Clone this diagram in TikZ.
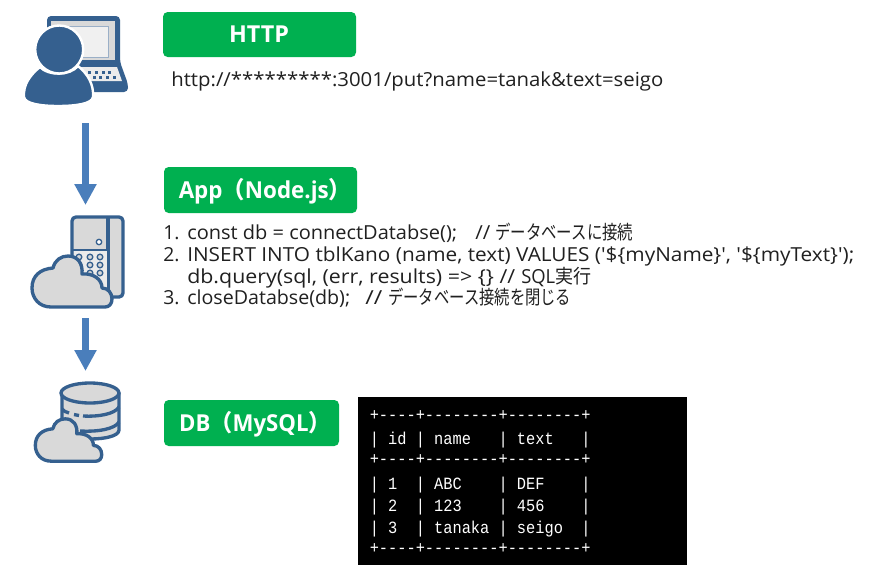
\documentclass[tikz,border=0pt]{standalone}
\usepackage{fontspec}
\usepackage{graphicx}
\usetikzlibrary{arrows.meta}
\setmainfont{Open Sans}
\setmonofont{Liberation Mono}
\newfontfamily\codef{Open Sans}
\newfontfamily\jpf{Noto Sans CJK JP}
\newfontfamily\jpb{Noto Sans CJK JP Bold}
\newcommand{\jp}[1]{{\jpf #1}}
\newcommand{\fitw}[2]{\resizebox{#1\dimexpr 0.75pt\relax}{\height}{#2}}
\newcommand{\gap}[1]{\kern #1\dimexpr 0.75pt\relax}
\definecolor{grn}{HTML}{00B050}
\definecolor{navy}{HTML}{35608F}
\definecolor{arrowb}{HTML}{4A7EBB}
\definecolor{fillg}{HTML}{D9D9D9}
\definecolor{txt}{HTML}{202020}
\tikzset{
 x=0.75pt,y=-0.75pt,
 badge/.style={fill=grn,rounded corners=3.5pt,draw=none,inner sep=0pt},
 badgetext/.style={text=white,font=\bfseries\fontsize{17.5}{20}\selectfont,inner sep=0pt},
 codeline/.style={anchor=base west,inner sep=0pt,text=txt,font=\codef\fontsize{14.5}{16}\selectfont},
 termline/.style={anchor=base west,inner sep=0pt,text=white,font=\ttfamily\fontsize{11.5}{13}\selectfont},
 flow/.style={draw=arrowb,line width=5.25pt,-{Triangle[length=15.75pt,width=15.75pt]}},
 iconline/.style={draw=navy,line width=2.5pt,line join=round},
}
\newcommand{\tall}[1]{\scalebox{1}[1.12]{#1}}
\newcommand{\cloudshape}{(20,52) .. controls (8,52) and (1,43) .. (1,33) .. controls (1,21) and (9,14) .. (22,13) .. controls (24,5) and (30,1) .. (37,1) .. controls (47,1) and (52,9) .. (51,19) .. controls (62,18) and (71,24) .. (71,33) .. controls (77,33) and (81,38) .. (81,44) .. controls (81,49) and (78,52) .. (74,52) -- cycle}
\begin{document}
\begin{tikzpicture}
\useasboundingbox (0,0) rectangle (892,579);
\fill[white] (0,0) rectangle (892,579);
% user + laptop icon
\fill[navy,rounded corners=3pt] (47,16) -- (120,16) -- (120,62) -- (128,84) -- (128,92) -- (60,92) -- (47,70) -- cycle;
\fill[fillg] (51,21) rectangle (115,60);
\fill[white!94!black,draw=navy!50!white,line width=0.5pt] (60,26) rectangle (108,57);
\fill[white!92!black] (80,67) -- (117,67) -- (122,81) -- (80,81) -- cycle;
\foreach \kx in {88,95,102,108}{\fill[navy] (\kx,70.5) rectangle +(3.2,3.2);}
\foreach \kx in {93,99,106,113}{\fill[navy] (\kx,76) rectangle +(3.2,3.2);}
\fill[navy,draw=white,line width=1.8pt] (40,67) .. controls (30,75) and (23,85) .. (24,97) .. controls (25,104) and (42,106) .. (58,106) .. controls (75,106) and (92,104) .. (93,97) .. controls (94,85) and (88,74) .. (78,66) .. controls (70,76) and (48,76) .. (40,67) -- cycle;
\fill[navy,draw=white,line width=1.8pt] (59.2,49.5) circle (24);
% server + cloud icon
\draw[iconline,fill=fillg,rounded corners=3pt] (72,217) rectangle (123,297);
\draw[iconline] (108,217) -- (108,297);
\draw[iconline,line width=1.6pt] (72,250) -- (108,250);
\fill[white!92!black] (73.5,251) rectangle (106.5,295);
\draw[navy,line width=1pt,fill=white] (99,242) circle (2.7);
\foreach \dx in {79,90,100}{\foreach \dy in {257,265,273}{\draw[navy,line width=1pt,fill=fillg] (\dx,\dy) circle (2.8);}}
\begin{scope}[shift={(31,255)}]
\draw[iconline,fill=fillg] \cloudshape;
\end{scope}
% db + cloud icon
\draw[iconline,fill=fillg] (62,393) -- (62,430) .. controls (62,436) and (75,439) .. (90,439) .. controls (105,439) and (119,436) .. (119,430) -- (119,393) -- cycle;
\draw[iconline,fill=fillg] (90,393) ellipse (29 and 10);
\draw[iconline] (62,409) .. controls (63,411) and (66,412) .. (69,413);
\draw[iconline] (74,414.5) -- (79,415.5);
\draw[iconline] (83,416) .. controls (98,417) and (115,414) .. (119,407);
\draw[iconline] (80,431) .. controls (98,432) and (115,429) .. (119,422);
\begin{scope}[shift={(34.5,418)},scale=0.83]
\draw[iconline,fill=fillg] \cloudshape;
\end{scope}
% flow arrows
\coordinate (ua) at (85.5,123);
\coordinate (sa) at (85.5,205);
\coordinate (sb) at (85.5,318);
\coordinate (db) at (85.5,371);
\draw[flow] (ua) -- (sa);
\draw[flow] (sb) -- (db);
% badges
\path[badge] (163,12) rectangle (356,57);
\node[badgetext] (lblhttp) at (259,34) {HTTP};
\path[badge] (164,167) rectangle (357,213);
\node[badgetext] (lblapp) at (265,191) {\scalebox{0.96}[1]{App\jp{\jpb （}Node.js\jp{\jpb ）}}};
\path[badge] (164,400) rectangle (339,446);
\node[badgetext] (lbldb) at (255,424) {\scalebox{0.95}[1]{DB\jp{\jpb （}MySQL\jp{\jpb ）}}};
% url
\node[codeline] (url) at (171,86) {\fitw{492}{http://*********:3001/put?name=tanak\&text=seigo}};
% code
\node[codeline] (n1) at (163,239) {1.};
\node[codeline] (c1) at (187,239) {\fitw{270}{const db = connectDatabse();}\gap{18}\fitw{15}{//}\gap{5}\fitw{138}{\jp{データベースに接続}}};
\node[codeline] (n2) at (163,261) {2.};
\node[codeline] (c2) at (187,261) {\fitw{667}{INSERT INTO tblKano (name, text) VALUES ('\$\{myName\}', '\$\{myText\}');}};
\node[codeline] (c3) at (187,283) {\fitw{328}{db.query(sql, (err, results) => \{\} //}\gap{6}\fitw{34}{SQL}\fitw{36}{\jp{実行}}};
\node[codeline] (n3) at (163,304) {3.};
\node[codeline] (c4) at (187,304) {\fitw{163}{closeDatabse(db);}\gap{15}\fitw{17}{//}\gap{6}\fitw{183}{\jp{データベース接続を閉じる}}};
% terminal
\fill[black] (358,397) rectangle (687,565);
\node[termline] (t1) at (369.5,420) {\tall{+----+--------+--------+}};
\node[termline] (t2) at (369.5,444) {\tall{| id | name\ \ \ | text\ \ \ |}};
\node[termline] (t3) at (369.5,464) {\tall{+----+--------+--------+}};
\node[termline] (t4) at (369.5,489) {\tall{| 1\ \ | ABC\ \ \ \ | DEF\ \ \ \ |}};
\node[termline] (t5) at (369.5,511) {\tall{| 2\ \ | 123\ \ \ \ | 456\ \ \ \ |}};
\node[termline] (t6) at (369.5,533) {\tall{| 3\ \ | tanaka | seigo\ \ |}};
\node[termline] (t7) at (369.5,553) {\tall{+----+--------+--------+}};
\end{tikzpicture}
\end{document}
